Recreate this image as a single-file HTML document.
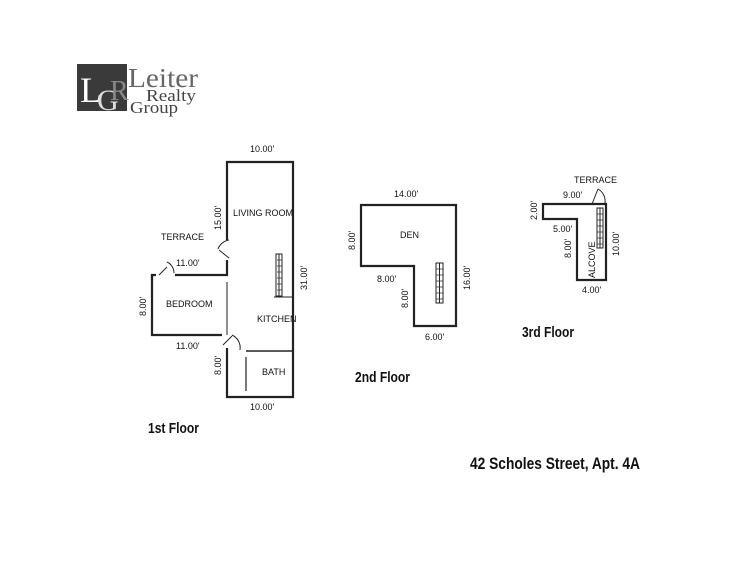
<!DOCTYPE html>
<html><head><meta charset="utf-8"><style>
html,body{margin:0;padding:0;background:#fff;width:756px;height:576px;overflow:hidden}
svg{display:block}
text{font-family:"Liberation Sans",Arial,sans-serif;fill:#111}
.s{font-size:9px}
.h{font-size:15px;font-weight:bold}
</style></head><body>
<svg width="756" height="576" viewBox="0 0 756 576">
<!-- logo -->
<rect x="77" y="64" width="50" height="47" fill="#3a3a3a"/>
<text x="80" y="102" style="font-family:'Liberation Serif',serif;font-size:36px;fill:#fff">L</text>
<text x="97" y="110" style="font-family:'Liberation Serif',serif;font-size:30px;fill:#ddd">G</text>
<text x="110" y="100" style="font-family:'Liberation Serif',serif;font-size:28px;fill:#888">R</text>
<text x="128" y="87" style="font-family:'Liberation Serif',serif;font-size:27px;fill:#666" textLength="70" lengthAdjust="spacingAndGlyphs">Leiter</text>
<text x="146" y="101" style="font-family:'Liberation Serif',serif;font-size:17px;fill:#444" textLength="50" lengthAdjust="spacingAndGlyphs">Realty</text>
<text x="130" y="113" style="font-family:'Liberation Serif',serif;font-size:17px;fill:#444" textLength="48" lengthAdjust="spacingAndGlyphs">Group</text>

<g fill="none" stroke="#222" stroke-width="2.2">
<polyline points="227,240 227,162 293,162 293,397 227,397 227,348"/>
<polyline points="227,260 227,275 175,275"/>
<polyline points="152,280 152,275 156,275"/>
<polyline points="152,275 152,335 222,335"/>
<line x1="246" y1="351" x2="292" y2="351" stroke-width="1.5"/>
<line x1="246" y1="357" x2="246" y2="391" stroke-width="1.2"/>
<line x1="227" y1="282" x2="227" y2="335" stroke-width="1"/>
<polygon points="361,205 456,205 456,326 414,326 414,266 361,266"/>
<polygon points="543,204 606,204 606,280 577,280 577,219 543,219"/>
</g>
<g fill="none" stroke="#222" stroke-width="1">
<line x1="219" y1="250" x2="229" y2="258"/><path d="M218,249 A14,14 0 0 1 229,240"/>
<line x1="159" y1="275" x2="167" y2="267"/><path d="M167,262 A12,12 0 0 1 174,273"/>
<line x1="223" y1="345" x2="232" y2="336"/><path d="M232,335 A14,14 0 0 1 240,350"/>
<line x1="592" y1="204" x2="598" y2="189"/><path d="M598,189 A14,14 0 0 1 605,203"/>
<rect x="276" y="254" width="6" height="42"/>
<line x1="279" y1="254" x2="279" y2="296"/>
<line x1="274" y1="297" x2="292" y2="297"/>
<rect x="436" y="263" width="7" height="40"/>
<line x1="439.5" y1="263" x2="439.5" y2="303"/>
<rect x="597" y="208" width="6" height="40"/>
<line x1="600" y1="208" x2="600" y2="248"/>
</g>
<g stroke="#333" stroke-width="0.8">
<line x1="277" y1="260" x2="282" y2="260"/><line x1="277" y1="266" x2="282" y2="266"/><line x1="277" y1="272" x2="282" y2="272"/><line x1="277" y1="278" x2="282" y2="278"/><line x1="277" y1="284" x2="282" y2="284"/><line x1="277" y1="290" x2="282" y2="290"/>
<line x1="436" y1="269" x2="443" y2="269"/><line x1="436" y1="275" x2="443" y2="275"/><line x1="436" y1="281" x2="443" y2="281"/><line x1="436" y1="287" x2="443" y2="287"/><line x1="436" y1="293" x2="443" y2="293"/><line x1="436" y1="299" x2="443" y2="299"/>
<line x1="597" y1="214" x2="603" y2="214"/><line x1="597" y1="220" x2="603" y2="220"/><line x1="597" y1="226" x2="603" y2="226"/><line x1="597" y1="232" x2="603" y2="232"/><line x1="597" y1="238" x2="603" y2="238"/><line x1="597" y1="244" x2="603" y2="244"/>
</g>

<text class="s" x="250" y="152">10.00'</text>
<text class="s" x="233" y="216">LIVING ROOM</text>
<text class="s" x="161" y="240">TERRACE</text>
<text class="s" x="176" y="266">11.00'</text>
<text class="s" x="166" y="307">BEDROOM</text>
<text class="s" x="257" y="322">KITCHEN</text>
<text class="s" x="176" y="349">11.00'</text>
<text class="s" x="262" y="375">BATH</text>
<text class="s" x="250" y="410">10.00'</text>
<text class="s" transform="translate(221,230) rotate(-90)">15.00'</text>
<text class="s" transform="translate(307,290) rotate(-90)">31.00'</text>
<text class="s" transform="translate(146,316) rotate(-90)">8.00'</text>
<text class="s" transform="translate(221,375) rotate(-90)">8.00'</text>
<text class="h" x="148" y="433" textLength="51" lengthAdjust="spacingAndGlyphs">1st Floor</text>

<text class="s" x="394" y="197">14.00'</text>
<text class="s" x="400" y="238">DEN</text>
<text class="s" transform="translate(355,250) rotate(-90)">8.00'</text>
<text class="s" transform="translate(470,290) rotate(-90)">16.00'</text>
<text class="s" x="377" y="282">8.00'</text>
<text class="s" transform="translate(408,308) rotate(-90)">8.00'</text>
<text class="s" x="425" y="340">6.00'</text>
<text class="h" x="355" y="382" textLength="55" lengthAdjust="spacingAndGlyphs">2nd Floor</text>

<text class="s" x="574" y="183">TERRACE</text>
<text class="s" x="563" y="198">9.00'</text>
<text class="s" transform="translate(537,220) rotate(-90)">2.00'</text>
<text class="s" x="553" y="232">5.00'</text>
<text class="s" transform="translate(571,258) rotate(-90)">8.00'</text>
<text class="s" transform="translate(595,278) rotate(-90)">ALCOVE</text>
<text class="s" transform="translate(619,256) rotate(-90)">10.00'</text>
<text class="s" x="582" y="293">4.00'</text>
<text class="h" x="522" y="337" textLength="52" lengthAdjust="spacingAndGlyphs">3rd Floor</text>

<text class="h" x="470" y="469" textLength="170" lengthAdjust="spacingAndGlyphs" style="font-size:17px">42 Scholes Street, Apt. 4A</text>
</svg>
</body></html>
